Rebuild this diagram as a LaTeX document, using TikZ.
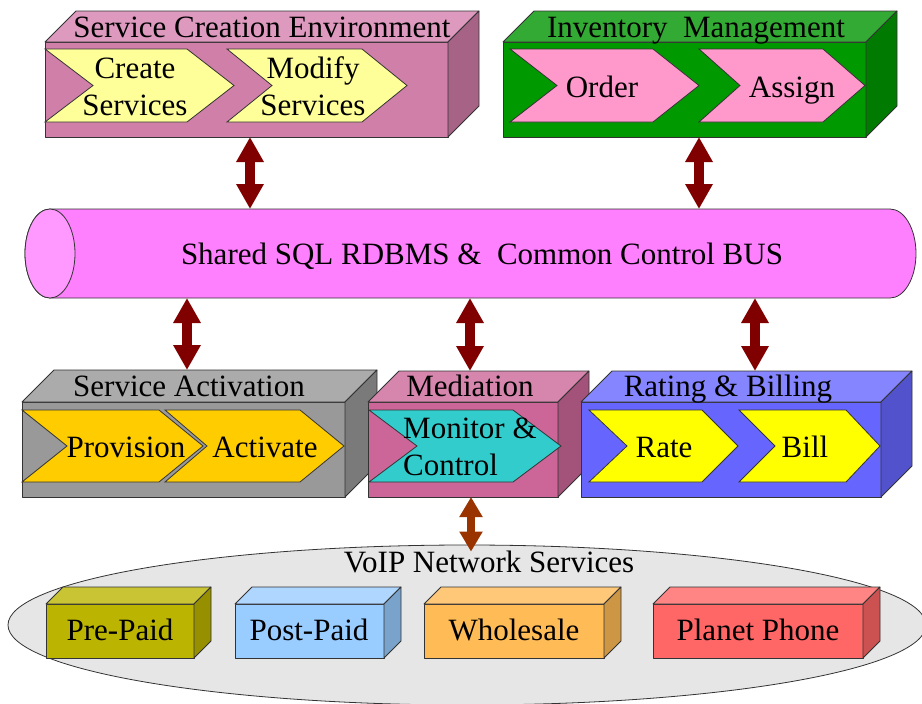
\documentclass[tikz,border=0pt]{standalone}
\usepackage{fontspec}
\setmainfont{Liberation Serif}
\usetikzlibrary{arrows.meta,calc,shapes.geometric}
\definecolor{sceF}{HTML}{D07FA8}
\definecolor{sceT}{HTML}{DE99BF}
\definecolor{sceS}{HTML}{A66386}
\definecolor{invF}{HTML}{009900}
\definecolor{invT}{HTML}{33AA33}
\definecolor{invS}{HTML}{007A00}
\definecolor{saF}{HTML}{999999}
\definecolor{saT}{HTML}{ABABAB}
\definecolor{saS}{HTML}{7A7A7A}
\definecolor{medF}{HTML}{CC6699}
\definecolor{medT}{HTML}{D685AD}
\definecolor{medS}{HTML}{A3527A}
\definecolor{ratF}{HTML}{6666FF}
\definecolor{ratT}{HTML}{8585FF}
\definecolor{ratS}{HTML}{5252CC}
\definecolor{paleyellow}{HTML}{FFFF99}
\definecolor{pinkchev}{HTML}{FF99CC}
\definecolor{goldchev}{HTML}{FFCC00}
\definecolor{cyanchev}{HTML}{33CCCC}
\definecolor{yellowchev}{HTML}{FFFF00}
\definecolor{busfill}{HTML}{FF80FF}
\definecolor{busface}{HTML}{FF99FF}
\definecolor{arrred}{HTML}{800000}
\definecolor{arrbrown}{HTML}{993300}
\definecolor{voipfill}{HTML}{E6E6E6}
\definecolor{ppF}{HTML}{BBB400}
\definecolor{ppT}{HTML}{C9C433}
\definecolor{ppS}{HTML}{969000}
\definecolor{poF}{HTML}{99CCFF}
\definecolor{poT}{HTML}{AED6FF}
\definecolor{poS}{HTML}{7AA3CC}
\definecolor{whF}{HTML}{FFBB55}
\definecolor{whT}{HTML}{FFC878}
\definecolor{whS}{HTML}{CC9644}
\definecolor{plF}{HTML}{FF6666}
\definecolor{plT}{HTML}{FF8585}
\definecolor{plS}{HTML}{CC5252}
\tikzset{
  faceline/.style={draw=black!80, line width=0.8pt, line join=round},
  chevline/.style={draw=black!80, line width=0.8pt, line join=miter},
  lbl/.style={font=\fontsize{31}{37}\selectfont, inner sep=0pt},
  bigarr/.style={line width=10pt, draw=arrred,
    arrows={Triangle[width=26pt,length=25pt]-Triangle[width=26pt,length=25pt]}},
  smallarr/.style={line width=8pt, draw=arrbrown,
    arrows={Triangle[width=22pt,length=20pt]-Triangle[width=22pt,length=20pt]}}
}
% #1 name, #2 x, #3 y (front top-left), #4 width, #5 height, #6 depth, #7 front, #8 top, #9 side
\newcommand{\cubebox}[9]{%
  \node[faceline, fill=#7, minimum width=#4pt, minimum height=#5pt, inner sep=0pt, outer sep=0pt, anchor=north west] (#1) at (#2,#3) {};
  \draw[faceline, fill=#8] (#1.north west) -- ++(#6,-#6) -- ($(#1.north east)+(#6,-#6)$) -- (#1.north east) -- cycle;
  \draw[faceline, fill=#9] (#1.north east) -- ++(#6,-#6) -- ($(#1.south east)+(#6,-#6)$) -- (#1.south east) -- cycle;
  \coordinate (#1top) at ($(#1.north west)+(#6,-#6)$);
}
% chevron: left x, notch x, right-top x, tip x, top y, bottom y, colour
\newcommand{\chev}[7]{%
  \draw[chevline, fill=#7] (#1,#5) -- (#3,#5) -- (#4,{(#5+#6)/2}) -- (#3,#6) -- (#1,#6) -- (#2,{(#5+#6)/2}) -- cycle;
}
\begin{document}
\begin{tikzpicture}[x=1pt,y=-1pt]
\useasboundingbox (0,0) rectangle (922,704);

% ---------- top boxes ----------
\cubebox{sce}{45}{42}{403}{95}{31}{sceF}{sceT}{sceS}
\node[lbl, anchor=base] (sceTitle) at (262,37) {Service Creation Environment};
\chev{45}{93}{187}{234}{49}{122}{paleyellow}
\chev{227}{272}{362}{407}{49}{122}{paleyellow}
\node[lbl, anchor=base, align=center] (create) at (135,115) {Create\\Services};
\node[lbl, anchor=base, align=center] (modify) at (313,115) {Modify\\Services};

\cubebox{inv}{503}{42}{363}{95}{31}{invF}{invT}{invS}
\node[lbl, anchor=base] (invTitle) at (696,37) {Inventory\ \ Management};
\chev{510}{557}{653}{699}{49}{122}{pinkchev}
\chev{699}{740}{823}{865}{49}{122}{pinkchev}
\node[lbl, anchor=base] (order) at (602,97) {Order};
\node[lbl, anchor=base] (assign) at (792,97) {Assign};

% ---------- bus ----------
\draw[faceline, fill=busfill] (50,209) -- (890,209)
  arc[start angle=-90, end angle=90, x radius=26, y radius=44.5]
  -- (50,298)
  arc[start angle=90, end angle=270, x radius=25, y radius=44.5] -- cycle;
\draw[faceline, fill=busface] (50,253.5) ellipse[x radius=25, y radius=44.5];
\node[minimum width=891pt, minimum height=89pt, inner sep=0pt, outer sep=0pt] (bus) at (470.5,253.5) {};
\node[lbl, anchor=base] (busText) at (482,264) {Shared SQL RDBMS \&\ \ Common Control BUS};

% ---------- lower boxes ----------
\cubebox{sa}{22}{402}{323}{95}{32}{saF}{saT}{saS}
\node[lbl, anchor=base] (saTitle) at (189,396) {Service Activation};
\chev{22}{67}{159}{203}{410}{482}{goldchev}
\chev{165}{207}{300}{344}{410}{482}{goldchev}
\node[lbl, anchor=base] (prov) at (126,457) {Provision};
\node[lbl, anchor=base] (activ) at (265,457) {Activate};

\cubebox{med}{368}{402}{190}{95}{31}{medF}{medT}{medS}
\node[lbl, anchor=base] (medTitle) at (470,396) {Mediation};
\chev{369}{417}{513}{561}{410}{482}{cyanchev}
\node[lbl, anchor=base west, align=left] (monitor) at (403,475) {Monitor \&\\Control};

\cubebox{rat}{581}{402}{300}{95}{31}{ratF}{ratT}{ratS}
\node[lbl, anchor=base] (ratTitle) at (728,396) {Rating \& Billing};
\chev{589}{627}{702}{738}{410}{482}{yellowchev}
\chev{739}{775}{846}{880}{410}{482}{yellowchev}
\node[lbl, anchor=base] (rate) at (664,457) {Rate};
\node[lbl, anchor=base] (bill) at (805,457) {Bill};

% ---------- VoIP ellipse ----------
\node[ellipse, faceline, fill=voipfill, minimum width=918pt, minimum height=160pt, inner sep=0pt] (voip) at (467,625) {};
\node[lbl, anchor=base] (voipTitle) at (489,572) {VoIP Network Services};
\cubebox{pre}{46}{604}{148}{54}{17}{ppF}{ppT}{ppS}
\node[lbl, anchor=base] (preT) at (120,640) {Pre-Paid};
\cubebox{post}{235}{604}{149}{54}{17}{poF}{poT}{poS}
\node[lbl, anchor=base] (postT) at (309,640) {Post-Paid};
\cubebox{whole}{424}{604}{180}{54}{17}{whF}{whT}{whS}
\node[lbl, anchor=base] (wholeT) at (514,640) {Wholesale};
\cubebox{planet}{653}{604}{210}{54}{17}{plF}{plT}{plS}
\node[lbl, anchor=base] (planetT) at (758,640) {Planet Phone};

% ---------- connectors ----------
\coordinate (x1) at (250,0);
\coordinate (x2) at (699,0);
\coordinate (x3) at (187,0);
\coordinate (x4) at (470,0);
\coordinate (x5) at (755,0);
\coordinate (x6) at (471,0);
\draw[bigarr] (sce.south -| x1) -- (bus.north -| x1);
\draw[bigarr] (inv.south -| x2) -- (bus.north -| x2);
\draw[bigarr] (bus.south -| x3) -- (satop -| x3);
\draw[bigarr] (bus.south -| x4) -- (medtop -| x4);
\draw[bigarr] (bus.south -| x5) -- (rattop -| x5);
\draw[smallarr] (med.south -| x6) -- ($(voip.north -| x6)+(0,7)$);
\end{tikzpicture}
\end{document}
